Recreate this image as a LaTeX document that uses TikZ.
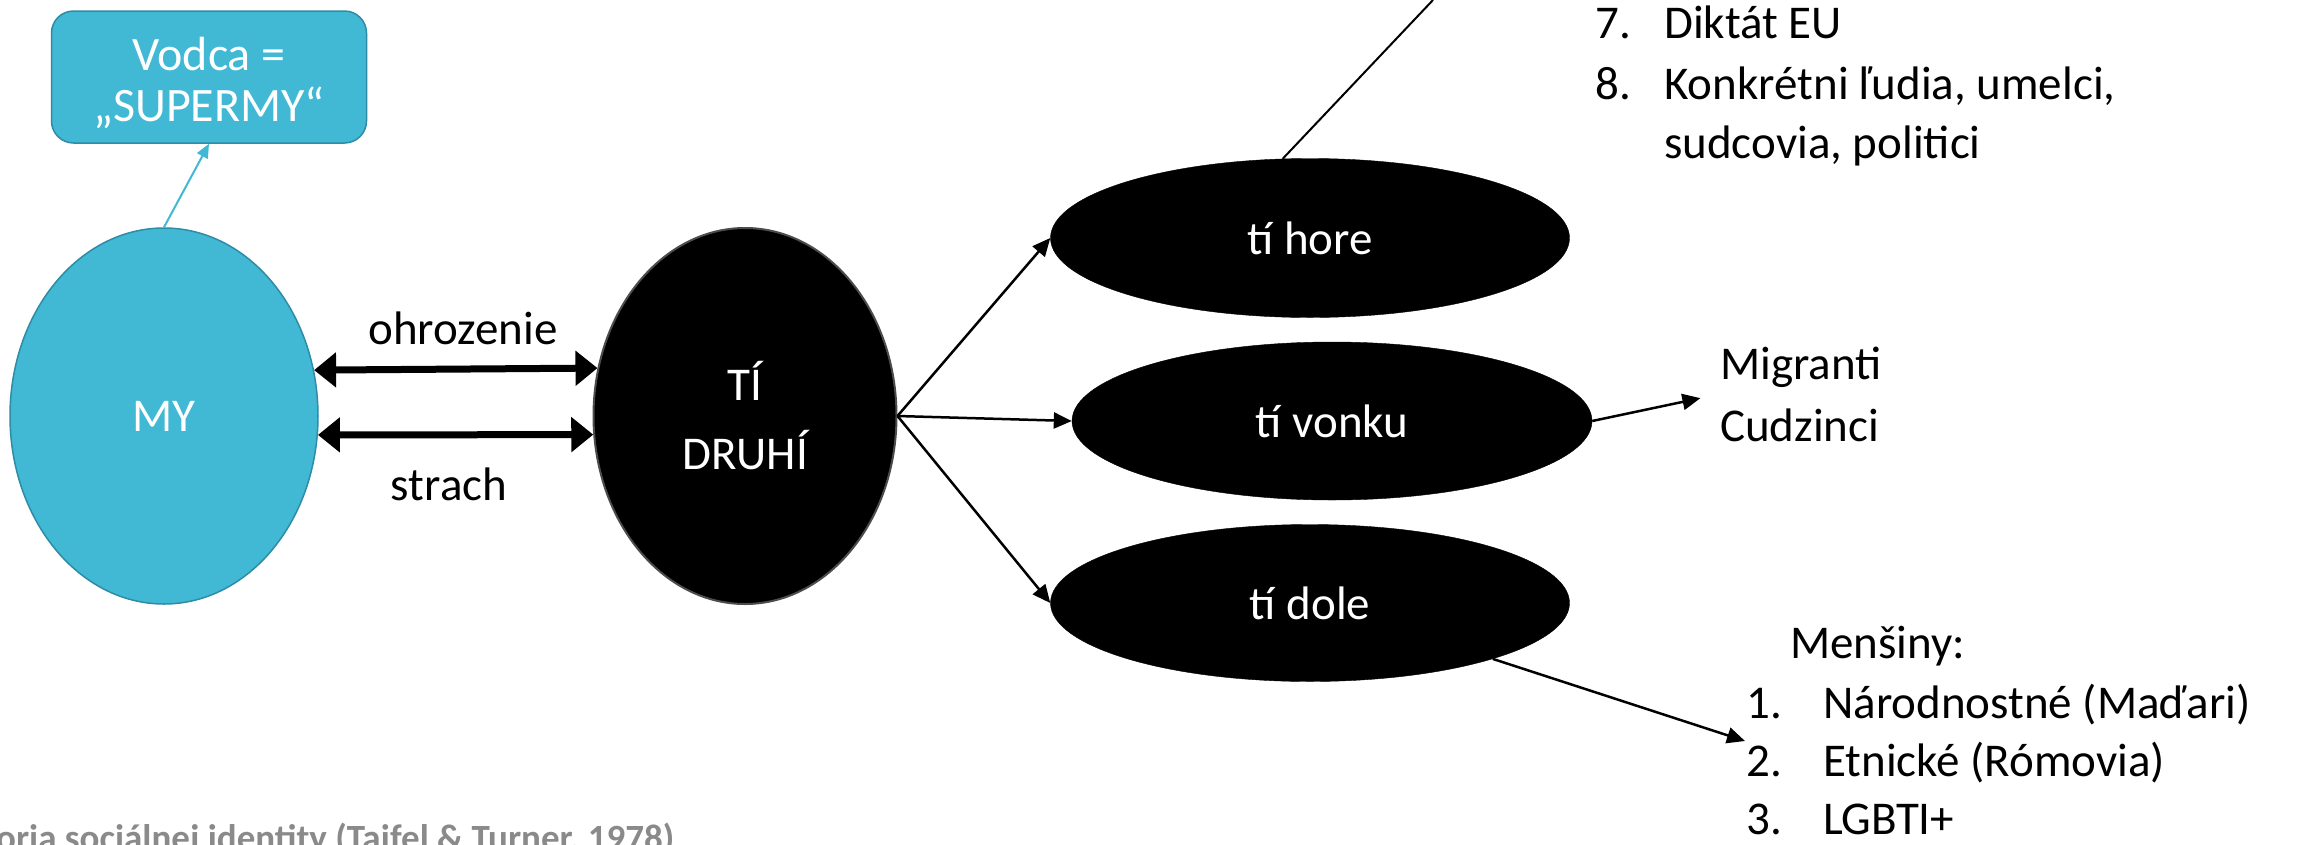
\documentclass[tikz,border=0pt]{standalone}
\usepackage{fontspec}
\setmainfont{Carlito}
\usetikzlibrary{shapes.geometric,arrows.meta}
\definecolor{cyanfill}{RGB}{65,184,212}
\definecolor{cyanedge}{RGB}{46,140,166}
\definecolor{footgray}{RGB}{138,138,138}
\tikzset{
  big/.style={font=\fontsize{47}{56}\selectfont},
  txt/.style={big, inner sep=0pt},
  cyanell/.style={ellipse, fill=cyanfill, draw=cyanedge, line width=1.5pt, inner sep=0pt, text=white, big},
  blackell/.style={ellipse, fill=black, draw=black, inner sep=0pt, text=white, big},
  dblarrow/.style={line width=7pt, {Triangle[length=22pt,width=34pt]}-{Triangle[length=22pt,width=34pt]}},
  fanarrow/.style={line width=2.5pt, -{Triangle[length=18pt,width=16pt]}},
}
\begin{document}
\begin{tikzpicture}[x=1pt,y=-1pt]
\useasboundingbox (0,0) rectangle (2305,844);
\fill[white] (0,0) rectangle (2305,844);

% leader box
\node[rectangle, rounded corners=22pt, fill=cyanfill, draw=cyanedge, line width=1.5pt,
      minimum width=315pt, minimum height=132pt] (vodca) at (209,77) {};
\node[txt, text=white, align=center, font=\fontsize{48}{51}\selectfont] (vodcatxt) at (209,83) {Vodca =\\„SUPERMY“};

% main ellipses
\node[cyanell, minimum width=308pt, minimum height=376pt] (my) at (164,416) {MY};
\node[blackell, draw=black!70, line width=2pt, minimum width=303pt, minimum height=376pt,
      align=center, font=\fontsize{47}{69}\selectfont] (druhi) at (745,416) {TÍ\\DRUHÍ};

\node[blackell, minimum width=519pt, minimum height=159pt] (hore) at (1310,238) {tí hore};
\node[blackell, minimum width=520pt, minimum height=158pt] (vonku) at (1332,421) {tí vonku};
\node[blackell, minimum width=519pt, minimum height=157pt] (dole) at (1310,603) {tí dole};

% labels on double arrows
\node[txt] (ohr) at (463,328) {ohrozenie};
\node[txt] (strach) at (449,484) {strach};

% connectors
\draw[cyanfill, line width=2pt, -{Triangle[length=14pt,width=12pt]}] (my.north) -- (vodca.south);
\draw[dblarrow] (my.17) -- (druhi.162.6);
\draw[dblarrow] (my.-7.8) -- (druhi.187.9);
\draw[fanarrow] (druhi.east) -- (hore.west);
\draw[fanarrow] (druhi.east) -- (vonku.west);
\draw[fanarrow] (druhi.east) -- (dole.west);

\coordinate (topend) at (1433,0);
\draw[line width=2pt] (hore.109) -- (topend);

% top-right list
\node[txt, anchor=base west] (n7) at (1595,38) {7.};
\node[txt, anchor=base west] (t7) at (1664,38) {Diktát EU};
\node[txt, anchor=base west] (n8) at (1595,99) {8.};
\node[txt, anchor=base west] (t8) at (1664,99) {Konkrétni ľudia, umelci,};
\node[txt, anchor=base west] (t8b) at (1664,158) {sudcovia, politici};

% outside
\node[txt, anchor=west, align=left, font=\fontsize{47}{62}\selectfont] (migr) at (1720,394) {Migranti\\Cudzinci};
\draw[fanarrow, shorten >=20pt] (vonku.east) -- (migr.west);

% minorities
\node[txt, anchor=base west] (mens) at (1790,658) {Menšiny:};
\node[txt, anchor=base west] (n1) at (1746,718) {1.};
\node[txt, anchor=base west] (t1) at (1823,718) {Národnostné (Maďari)};
\node[txt, anchor=base west] (n2) at (1746,776) {2.};
\node[txt, anchor=base west] (t2) at (1823,776) {Etnické (Rómovia)};
\node[txt, anchor=base west] (n3) at (1746,834) {3.};
\node[txt, anchor=base west] (t3) at (1823,834) {LGBTI+};
\coordinate (mensend) at (1745,741);
\draw[fanarrow] (dole.-17) -- (mensend);

% footer
\node[anchor=base west, inner sep=0pt, text=footgray, font=\bfseries\fontsize{37}{44}\selectfont]
  (foot) at (-4,850) {oria sociálnej identity (Tajfel \& Turner, 1978)};
\end{tikzpicture}
\end{document}
